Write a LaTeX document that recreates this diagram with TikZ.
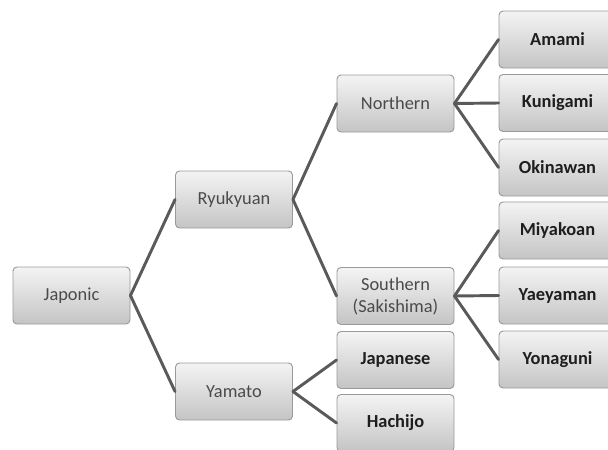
\documentclass[tikz,border=0pt]{standalone}
\usepackage{fontspec}
\setmainfont{Carlito}
\definecolor{linegray}{HTML}{5A5A5A}
\definecolor{boxedge}{HTML}{9A9A9A}
\definecolor{boxtop}{HTML}{F4F4F4}
\definecolor{boxbot}{HTML}{C4C4C4}
\definecolor{midtext}{HTML}{4A4A4A}
\definecolor{leaftext}{HTML}{1E1E1E}
\begin{document}
\begin{tikzpicture}[x=0.75pt,y=-0.75pt,
  box/.style={draw=boxedge,line width=0.7pt,rounded corners=3pt,
    top color=boxtop,bottom color=boxbot,
    minimum width=87.75pt,minimum height=42.75pt,inner sep=0pt,
    align=center,font=\fontsize{13.8}{16.5}\selectfont},
  midbox/.style={box,text=midtext},
  leafbox/.style={box,text=leaftext,font=\fontsize{13.8}{16.5}\selectfont\bfseries},
  conn/.style={draw=linegray,line width=2.2pt,line cap=round,line join=round}]
\useasboundingbox (0,0) rectangle (608,450);
\clip (0,0) rectangle (608,450);
\fill[white] (0,0) rectangle (608,450);
\node[midbox] (jap) at (71.5,295.5) {Japonic};
\node[midbox] (ryu) at (234,199.5) {Ryukyuan};
\node[midbox] (yam) at (234,391.5) {Yamato};
\node[midbox] (nor) at (395.5,103.5) {Northern};
\node[midbox] (sou) at (395.5,296) {Southern\\(Sakishima)};
\node[leafbox] (jpn) at (395.5,360) {Japanese};
\node[leafbox] (hac) at (395.5,423) {Hachijo};
\node[leafbox] (ama) at (557.5,39.5) {Amami};
\node[leafbox] (kun) at (557.5,103) {Kunigami};
\node[leafbox] (oki) at (557.5,167.5) {Okinawan};
\node[leafbox] (miy) at (557.5,230.5) {Miyakoan};
\node[leafbox] (yae) at (557.5,295.5) {Yaeyaman};
\node[leafbox] (yon) at (557.5,359.5) {Yonaguni};
\draw[conn] (jap.east) -- (ryu.west);
\draw[conn] (jap.east) -- (yam.west);
\draw[conn] (ryu.east) -- (nor.west);
\draw[conn] (ryu.east) -- (sou.west);
\draw[conn] (yam.east) -- (jpn.west);
\draw[conn] (yam.east) -- (hac.west);
\draw[conn] (nor.east) -- (ama.west);
\draw[conn] (nor.east) -- (kun.west);
\draw[conn] (nor.east) -- (oki.west);
\draw[conn] (sou.east) -- (miy.west);
\draw[conn] (sou.east) -- (yae.west);
\draw[conn] (sou.east) -- (yon.west);
\end{tikzpicture}
\end{document}
